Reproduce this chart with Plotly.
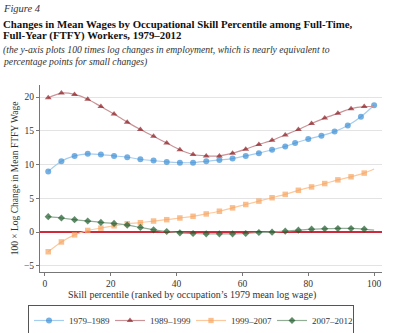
import plotly.graph_objects as go

# Skill percentile positions of the plotted points
pct = [1, 5, 9, 13, 17, 21, 25, 29, 33, 37, 41, 45, 49, 53, 57, 61, 65, 69, 73, 77, 81, 85, 89, 93, 97]
pct_7989 = [1, 5, 9, 13, 17, 21, 25, 29, 33, 37, 41, 45, 49, 53, 57, 61, 65, 69, 73,
            76, 80, 84, 88, 92, 96, 100]

# 100 x log change in mean FTFY wage, by period
wage_7989 = [9.0, 10.5, 11.3, 11.6, 11.5, 11.3, 11.1, 10.8, 10.6, 10.4, 10.3, 10.3, 10.5,
             10.7, 10.9, 11.3, 11.7, 12.2, 12.7, 13.2, 13.8, 14.3, 14.9, 15.8, 17.1, 18.8]
wage_8999 = [19.9, 20.6, 20.4, 19.7, 18.6, 17.5, 16.3, 15.2, 14.2, 13.2, 12.2, 11.5, 11.3,
             11.3, 11.7, 12.3, 13.0, 13.6, 14.4, 15.2, 16.1, 16.9, 17.6, 18.3, 18.6]
wage_9907 = [-2.9, -1.45, -0.4, 0.25, 0.6, 0.95, 1.25, 1.4, 1.65, 1.85, 2.1, 2.35, 2.7,
             3.1, 3.6, 4.1, 4.6, 5.1, 5.6, 6.2, 6.7, 7.2, 7.75, 8.2, 8.75]
wage_0712 = [2.3, 2.1, 1.85, 1.65, 1.45, 1.3, 1.05, 0.7, 0.35, 0.1, -0.1, -0.2, -0.25,
             -0.25, -0.25, -0.2, -0.05, 0.0, 0.15, 0.3, 0.45, 0.5, 0.55, 0.55, 0.45]

# Smoothed curves run on to the 100th percentile
end_pct = 100
end_8999 = 18.6
end_9907 = 9.35
end_0712 = 0.3

x_ticks = [0, 20, 40, 60, 80, 100]
y_ticks = [-5, 0, 5, 10, 15, 20]

SERIF = "Liberation Serif"

series = [
    ("1979–1989", pct_7989, wage_7989, None, "circle", 6, "#3b8fd5", "#a6cdee"),
    ("1989–1999", pct, wage_8999, end_8999, "triangle-up", 6, "#8c1c22", "#c99397"),
    ("1999–2007", pct, wage_9907, end_9907, "square", 5.5, "#f7a460", "#fcc99e"),
    ("2007–2012", pct, wage_0712, end_0712, "diamond", 5.5, "#1d5a2a", "#93ad97"),
]

fig = go.Figure()
for name, xs, ys, end_val, sym, msize, mcol, lcol in series:
    xs = list(xs)
    ys = list(ys)
    sizes = [msize] * len(xs)
    if end_val is not None:
        xs.append(end_pct)
        ys.append(end_val)
        sizes.append(0)
    fig.add_trace(go.Scatter(
        x=xs, y=ys, name=name, mode="lines+markers",
        line=dict(color=lcol, width=1.2, shape="spline", smoothing=0.8),
        marker=dict(symbol=sym, size=sizes, color=mcol, line=dict(width=0)),
    ))

# Plot area in pixels: left 40, right 382, top 85, bottom 272
L, R, T, B = 40, 382, 85, 272


def px(xp):
    return (xp - L) / (R - L)


def py(yp):
    return (B - yp) / (B - T)


heading = [
    ("<i>Figure 4</i>", 9, 10.5, "#333333"),
    ("<b>Changes in Mean Wages by Occupational Skill Percentile among Full-Time,</b>", 24, 10.8, "#111111"),
    ("<b>Full-Year (FTFY) Workers, 1979–2012</b>", 35.5, 10.8, "#111111"),
    ("<i>(the y-axis plots 100 times log changes in employment, which is nearly equivalent to</i>", 50, 9.7, "#333333"),
    ("<i>percentage points for small changes)</i>", 62, 9.7, "#333333"),
]
annotations = [
    dict(text=t, x=px(1), y=py(yc), xref="paper", yref="paper", xanchor="left",
         yanchor="middle", showarrow=False, font=dict(family=SERIF, size=s, color=c))
    for t, yc, s, c in heading
]
# x-axis title, set close under the tick labels
annotations.append(dict(
    text="Skill percentile (ranked by occupation’s 1979 mean log wage)",
    x=px(192), y=py(295), xref="paper", yref="paper", xanchor="center", yanchor="middle",
    showarrow=False, font=dict(family=SERIF, size=10, color="#333333"),
))

fig.update_layout(
    width=400, height=333,
    margin=dict(l=L, r=400 - R, t=T, b=333 - B, autoexpand=False),
    paper_bgcolor="white", plot_bgcolor="white",
    font=dict(family=SERIF, size=10, color="#333333"),
    annotations=annotations,
    showlegend=True,
    legend=dict(
        orientation="h", x=px(28), xanchor="left", y=py(305), yanchor="top",
        bordercolor="#555555", borderwidth=1, bgcolor="white",
        font=dict(family=SERIF, size=9, color="#333333"),
        itemwidth=30, tracegroupgap=0, entrywidth=36,
    ),
    xaxis=dict(
        range=[-1.5, 102.4], tickvals=x_ticks, ticks="outside", ticklen=3,
        tickcolor="#777777", showline=True, linecolor="#777777", linewidth=1,
        showgrid=False, zeroline=False,
        tickfont=dict(size=9.5, family=SERIF, color="#333333"),
    ),
    yaxis=dict(
        range=[-5.9, 21.8], tickvals=y_ticks, ticktext=["−5", "0", "5", "10", "15", "20"],
        ticks="outside", ticklen=3, tickcolor="#777777",
        showline=True, linecolor="#777777", linewidth=1,
        showgrid=True, gridcolor="#e3e3e3", gridwidth=1.2,
        zeroline=True, zerolinecolor="#d1293c", zerolinewidth=1.5,
        title=dict(text="100 × Log Change in Mean FTFY Wage",
                   font=dict(size=9.5, family=SERIF, color="#333333"), standoff=3),
        tickfont=dict(size=9.5, family=SERIF, color="#333333"),
    ),
)

fig.write_html("out.html")
